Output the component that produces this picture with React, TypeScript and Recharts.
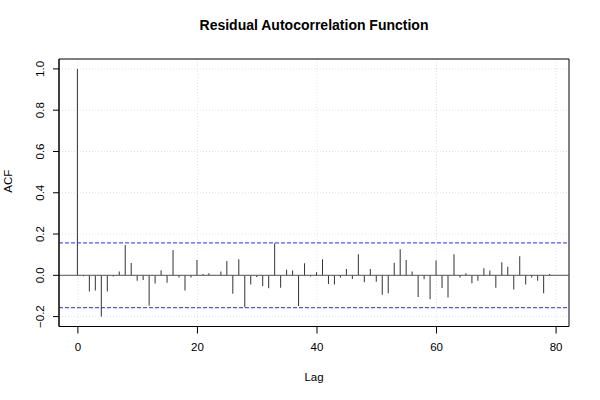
import React from "react";
import {
  ComposedChart,
  Bar,
  XAxis,
  YAxis,
  CartesianGrid,
  ReferenceLine,
  ReferenceArea,
} from "recharts";

const lags = [
  0, 1, 2, 3, 4, 5, 6, 7, 8, 9, 10, 11, 12, 13, 14, 15, 16, 17, 18, 19,
  20, 21, 22, 23, 24, 25, 26, 27, 28, 29, 30, 31, 32, 33, 34, 35, 36, 37, 38, 39,
  40, 41, 42, 43, 44, 45, 46, 47, 48, 49, 50, 51, 52, 53, 54, 55, 56, 57, 58, 59,
  60, 61, 62, 63, 64, 65, 66, 67, 68, 69, 70, 71, 72, 73, 74, 75, 76, 77, 78, 79,
];

const acfValues = [
  1.0, -0.004, -0.079, -0.073, -0.2, -0.078, -0.006, 0.018, 0.147, 0.06,
  -0.026, -0.023, -0.147, -0.04, 0.024, -0.036, 0.123, -0.011, -0.074, -0.011,
  0.074, 0.006, 0.01, 0.002, 0.019, 0.069, -0.089, 0.078, -0.155, -0.044,
  -0.008, -0.052, -0.063, 0.155, -0.06, 0.027, 0.023, -0.149, 0.058, -0.006,
  0.015, 0.078, -0.042, -0.044, -0.011, 0.031, -0.018, 0.102, -0.034, 0.031,
  -0.031, -0.094, -0.087, 0.061, 0.126, 0.074, 0.018, -0.105, -0.019, -0.116,
  0.072, -0.061, -0.107, 0.102, -0.011, 0.01, -0.039, -0.026, 0.034, 0.023,
  -0.06, 0.063, 0.042, -0.069, 0.092, -0.044, -0.01, -0.026, -0.087, 0.006,
];

const xTicks = [0, 20, 40, 60, 80];
const yTicks = [-0.2, 0, 0.2, 0.4, 0.6, 0.8, 1.0];
const ciBound = 0.157;

const data = lags.map((lag, i) => ({ lag, acf: acfValues[i] }));

const FONT = '"Liberation Sans", Arial, Helvetica, sans-serif';

// R-style rotated y tick labels
function YTick(props: any) {
  const { y, payload } = props;
  const label = payload.value.toFixed(1).replace("-", "\u2212");
  return (
    <text
      x={44}
      y={y}
      transform={`rotate(-90, 44, ${y})`}
      textAnchor="middle"
      fontSize={11.5}
      fontFamily={FONT}
      fill="#000"
    >
      {label}
    </text>
  );
}

export default function App() {
  return (
    <div style={{ position: "absolute", left: 0, top: 0, width: 600, height: 400, background: "#fff" }}>
      <div
        style={{
          position: "absolute",
          left: 0,
          width: 628,
          top: 17,
          textAlign: "center",
          fontFamily: FONT,
          fontWeight: "bold",
          fontSize: 14,
          color: "#000",
        }}
      >
        Residual Autocorrelation Function
      </div>
      <ComposedChart
        width={600}
        height={400}
        data={data}
        margin={{ top: 59, right: 31, bottom: 0, left: 0 }}
      >
        <CartesianGrid
          stroke="#e2e2e2"
          strokeDasharray="1 2"
          horizontalValues={yTicks}
          verticalValues={xTicks}
        />
        <XAxis
          dataKey="lag"
          type="number"
          domain={[-3.16, 82.16]}
          ticks={xTicks}
          allowDataOverflow
          height={73.5}
          tickSize={7}
          tickMargin={9}
          stroke="#000"
          tick={{ fill: "#000", fontSize: 11.5, fontFamily: FONT }}
          label={{ value: "Lag", position: "insideBottom", offset: 19, fontSize: 11.5, fontFamily: FONT, fill: "#000" }}
        />
        <YAxis
          type="number"
          domain={[-0.248, 1.048]}
          ticks={yTicks}
          allowDataOverflow
          width={59}
          tickSize={6}
          stroke="#000"
          tick={<YTick />}
          label={{
            value: "ACF",
            angle: -90,
            position: "insideLeft",
            offset: 8,
            fontSize: 11.5,
            fontFamily: FONT,
            fill: "#000",
          }}
        />
        <ReferenceArea
          x1={-3.16}
          x2={82.16}
          y1={-0.248}
          y2={1.048}
          fill="none"
          stroke="#000"
          strokeWidth={1}
          ifOverflow="visible"
        />
        <ReferenceLine y={0} stroke="#555" strokeWidth={1} />
        <ReferenceLine y={ciBound} stroke="#2a2aff" strokeDasharray="4 2" />
        <ReferenceLine y={-ciBound} stroke="#2a2aff" strokeDasharray="4 2" />
        <Bar dataKey="acf" fill="#333" barSize={1} isAnimationActive={false} />
      </ComposedChart>
    </div>
  );
}
